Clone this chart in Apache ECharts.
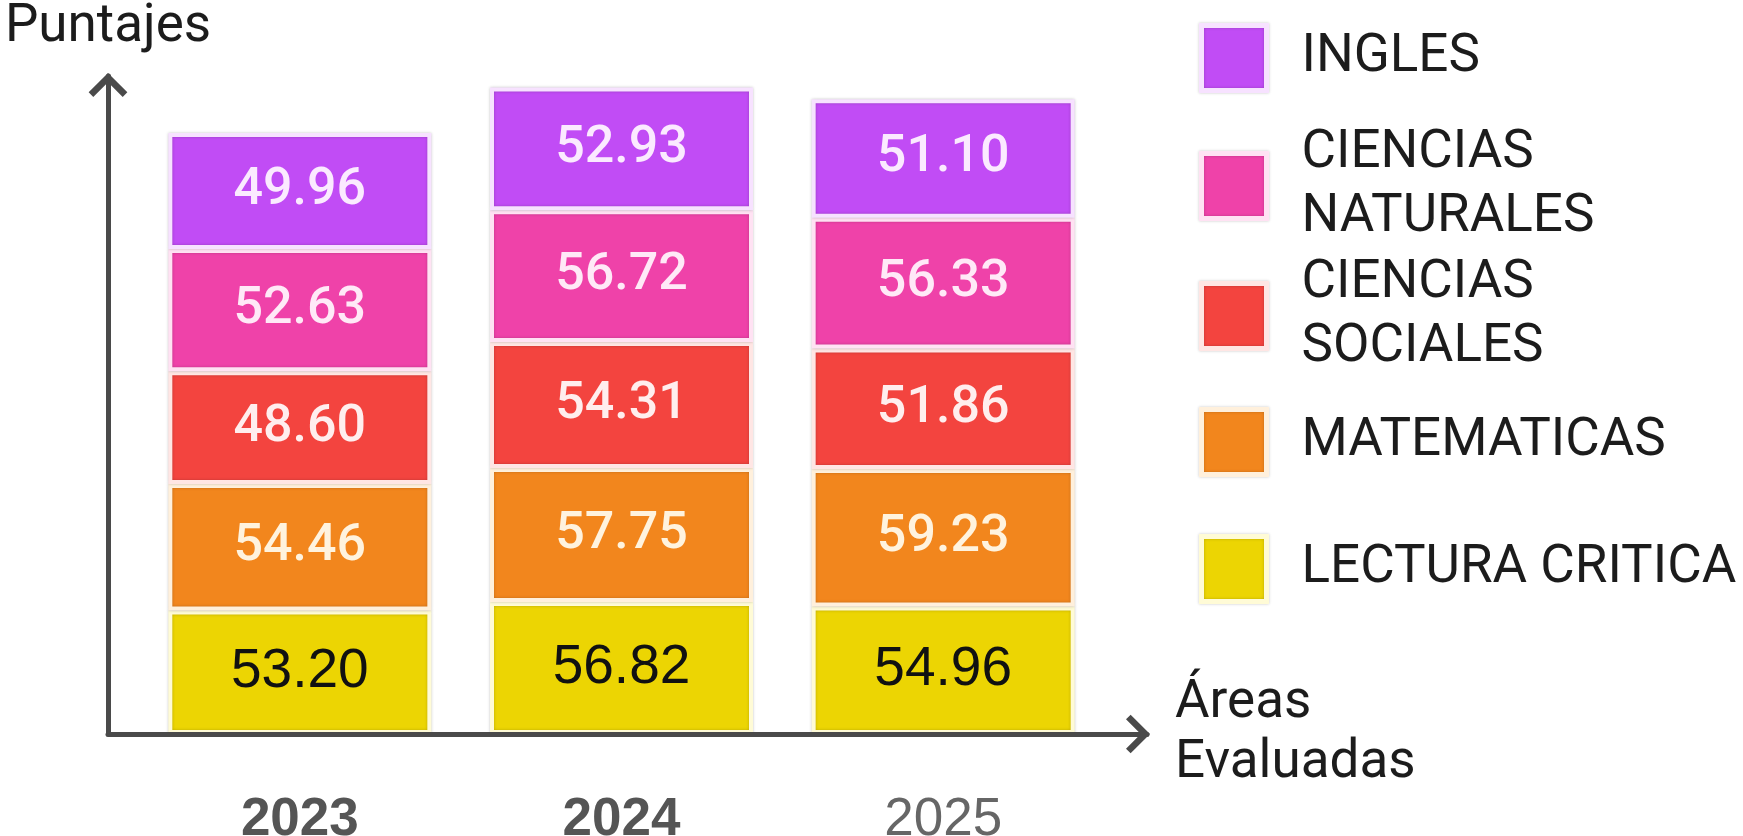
<!DOCTYPE html>
<html>
<head>
<meta charset="utf-8">
<script src="https://cdn.jsdelivr.net/npm/echarts@6/dist/echarts.min.js"></script>
<style>html,body{margin:0;padding:0;background:#fff}#c{width:1743px;height:836px}</style>
</head>
<body>
<div id="c"></div>
<script>
const categories = ['2023', '2024', '2025'];
const seriesNames = ['LECTURA CRITICA', 'MATEMATICAS', 'CIENCIAS SOCIALES', 'CIENCIAS NATURALES', 'INGLES'];
const lecturaCritica = [53.20, 56.82, 54.96];
const matematicas = [54.46, 57.75, 59.23];
const cienciasSociales = [48.60, 54.31, 51.86];
const cienciasNaturales = [52.63, 56.72, 56.33];
const ingles = [49.96, 52.93, 51.10];
const legendOrder = ['INGLES', 'CIENCIAS NATURALES', 'CIENCIAS SOCIALES', 'MATEMATICAS', 'LECTURA CRITICA'];

const values = [lecturaCritica, matematicas, cienciasSociales, cienciasNaturales, ingles];
const colors = ['#ecd503', '#f2861d', '#f3443f', '#ef42a9', '#c14cf5'];
const borders = ['#fffbd6', '#fff0dc', '#ffe6e4', '#ffe2f3', '#f7e2ff'];
const labelColors = ['#111111', '#fff3de', '#ffeeee', '#ffe9f7', '#fbeaff'];

const chart = echarts.init(document.getElementById('c'), null, {renderer: 'canvas'});

const arrowPath = 'path://M0,10 L10,0 L20,10 L17.6,12.4 L10,4.8 L2.4,12.4 Z';
const axisColor = '#4a4a4a';

const series = seriesNames.map((name, i) => ({
  name: name,
  type: 'bar',
  stack: 'total',
  xAxisIndex: 0,
  yAxisIndex: 0,
  barWidth: 263,
  data: values[i],
  itemStyle: {color: colors[i], borderColor: borders[i], borderWidth: 4,
    shadowBlur: 3, shadowColor: 'rgba(0,0,0,0.22)'},
  label: {
    show: true,
    position: 'inside',
    formatter: p => p.value.toFixed(2),
    color: labelColors[i],
    fontFamily: i === 0 ? 'Liberation Sans' : 'Roboto',
    fontWeight: i === 0 ? 'normal' : 500,
    fontSize: i === 0 ? 55 : 52
  }
}));

const legendCenters = [58, 186, 316, 442, 569];
const legends = legendOrder.map((name, i) => {
  const twoLine = name.indexOf('CIENCIAS') === 0;
  return {
    data: [name],
    orient: 'vertical',
    left: 1199,
    top: legendCenters[i] - (twoLine ? 64 : 35),
    padding: 0,
    icon: 'rect',
    itemWidth: 65,
    itemHeight: 65,
    itemStyle: {borderWidth: 5, shadowBlur: 3, shadowColor: 'rgba(0,0,0,0.22)'},
    selectedMode: false,
    formatter: n => n.indexOf('CIENCIAS') === 0 ? n.replace(' ', '\n') : n,
    textStyle: {fontFamily: 'Roboto', fontSize: 53, lineHeight: 64, color: '#1c1c1c', padding: [0, 0, 0, 30]}
  };
});

const option = {
  backgroundColor: '#ffffff',
  animation: false,
  legend: legends,
  grid: [
    {left: 139, right: 639, top: 84, bottom: 102, outerBoundsMode: 'none'},
    {left: 108, right: 596, top: 76, bottom: 102, outerBoundsMode: 'none'}
  ],
  xAxis: [
    {
      type: 'category', gridIndex: 0, data: categories,
      axisLine: {show: false}, axisTick: {show: false},
      axisLabel: {
        margin: 60,
        formatter: v => v === '2025' ? '{n|' + v + '}' : '{b|' + v + '}',
        rich: {
          b: {fontFamily: 'Liberation Sans', fontWeight: 'bold', fontSize: 53, color: '#555555'},
          n: {fontFamily: 'Liberation Sans', fontWeight: 'normal', fontSize: 53, color: '#666666'}
        }
      }
    },
    {
      type: 'value', gridIndex: 1, min: 0, max: 1, z: 5,
      splitLine: {show: false}, axisTick: {show: false}, axisLabel: {show: false},
      axisLine: {show: true, symbol: ['none', arrowPath], symbolSize: [40, 24], symbolOffset: [0, -9],
        lineStyle: {color: axisColor, width: 5}},
      name: 'Áreas\nEvaluadas', nameLocation: 'end', nameGap: 28,
      nameTextStyle: {fontFamily: 'Roboto', fontSize: 53, lineHeight: 60, color: '#1c1c1c', align: 'left', verticalAlign: 'middle'}
    }
  ],
  yAxis: [
    {type: 'value', gridIndex: 0, min: 0, max: 280, show: false},
    {
      type: 'value', gridIndex: 1, min: 0, max: 1, z: 5,
      splitLine: {show: false}, axisTick: {show: false}, axisLabel: {show: false},
      axisLine: {show: true, symbol: ['none', arrowPath], symbolSize: [40, 24], symbolOffset: [0, -9],
        lineStyle: {color: axisColor, width: 5}},
      name: 'Puntajes', nameLocation: 'end', nameGap: 22,
      nameTextStyle: {fontFamily: 'Roboto', fontSize: 53, color: '#1c1c1c', align: 'center'}
    }
  ],
  series: series
};
chart.setOption(option);
</script>
</body>
</html>
